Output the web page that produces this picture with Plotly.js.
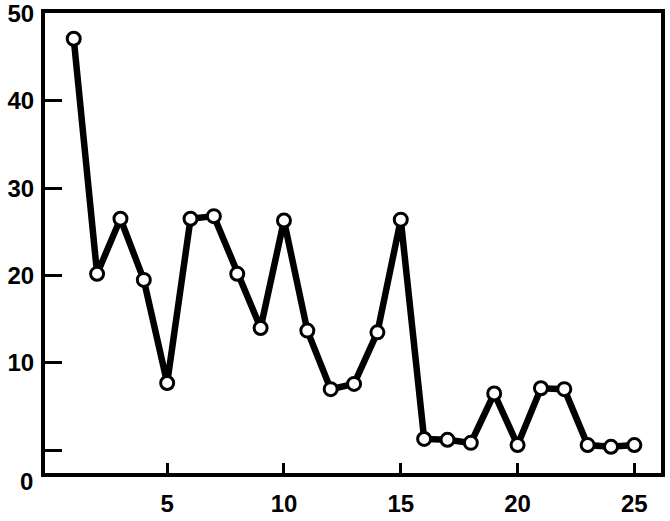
<!DOCTYPE html>
<html>
<head>
<meta charset="utf-8">
<script src="https://cdn.plot.ly/plotly-3.0.1.min.js"></script>
<style>html,body{margin:0;padding:0;background:#fff;}#chart{width:670px;height:521px;}</style>
</head>
<body>
<div id="chart"></div>
<script>
const xValues = [1,2,3,4,5,6,7,8,9,10,11,12,13,14,15,16,17,18,19,20,21,22,23,24,25];
const yValues = [47.1,20.2,26.5,19.5,7.7,26.5,26.8,20.2,14.0,26.3,13.7,7.0,7.6,13.5,26.4,1.3,1.2,0.85,6.5,0.6,7.1,7.0,0.6,0.4,0.6];
const xTickVals = [5,10,15,20,25];
const yTickVals = [0,10,20,30,40,50];
const yTickText = ["","10","20","30","40","50"];
const zeroLabel = "0";

const fam = "Liberation Sans, Arial, sans-serif";
const tickFont = {family: fam, size: 24, color: "#000", weight: "bold"};

const trace = {
  x: xValues, y: yValues, type: "scatter", mode: "lines+markers",
  line: {color: "#000", width: 6.5},
  marker: {symbol: "circle", size: 13, color: "#fff", line: {color: "#000", width: 3}},
  cliponaxis: false, hoverinfo: "none"
};

const layout = {
  width: 670, height: 521,
  margin: {l: 45, r: 9, t: 13, b: 48},
  paper_bgcolor: "#fff", plot_bgcolor: "#fff",
  showlegend: false,
  font: {family: fam, size: 24, color: "#000"},
  xaxis: {
    range: [-0.23, 26.14], tickvals: xTickVals, ticktext: xTickVals.map(String),
    ticks: "inside", ticklen: 10, tickwidth: 3, tickcolor: "#000",
    showline: true, linewidth: 4, linecolor: "#000", mirror: true,
    showgrid: false, zeroline: false, ticklabelstandoff: 6,
    tickfont: tickFont, ticklabeloverflow: "allow"
  },
  yaxis: {
    range: [-2.6, 50.05], tickvals: yTickVals, ticktext: yTickText,
    ticks: "inside", ticklen: 17, tickwidth: 3, tickcolor: "#000",
    showline: true, linewidth: 4, linecolor: "#000", mirror: true,
    showgrid: false, zeroline: false, ticklabelstandoff: 2,
    tickfont: tickFont, ticklabeloverflow: "allow"
  },
  annotations: [{
    text: zeroLabel, xref: "paper", yref: "paper", x: 0, y: -0.018,
    xanchor: "right", yanchor: "middle", xshift: -10, showarrow: false,
    font: tickFont
  }]
};

Plotly.newPlot("chart", [trace], layout, {staticPlot: true, displayModeBar: false});
</script>
</body>
</html>
